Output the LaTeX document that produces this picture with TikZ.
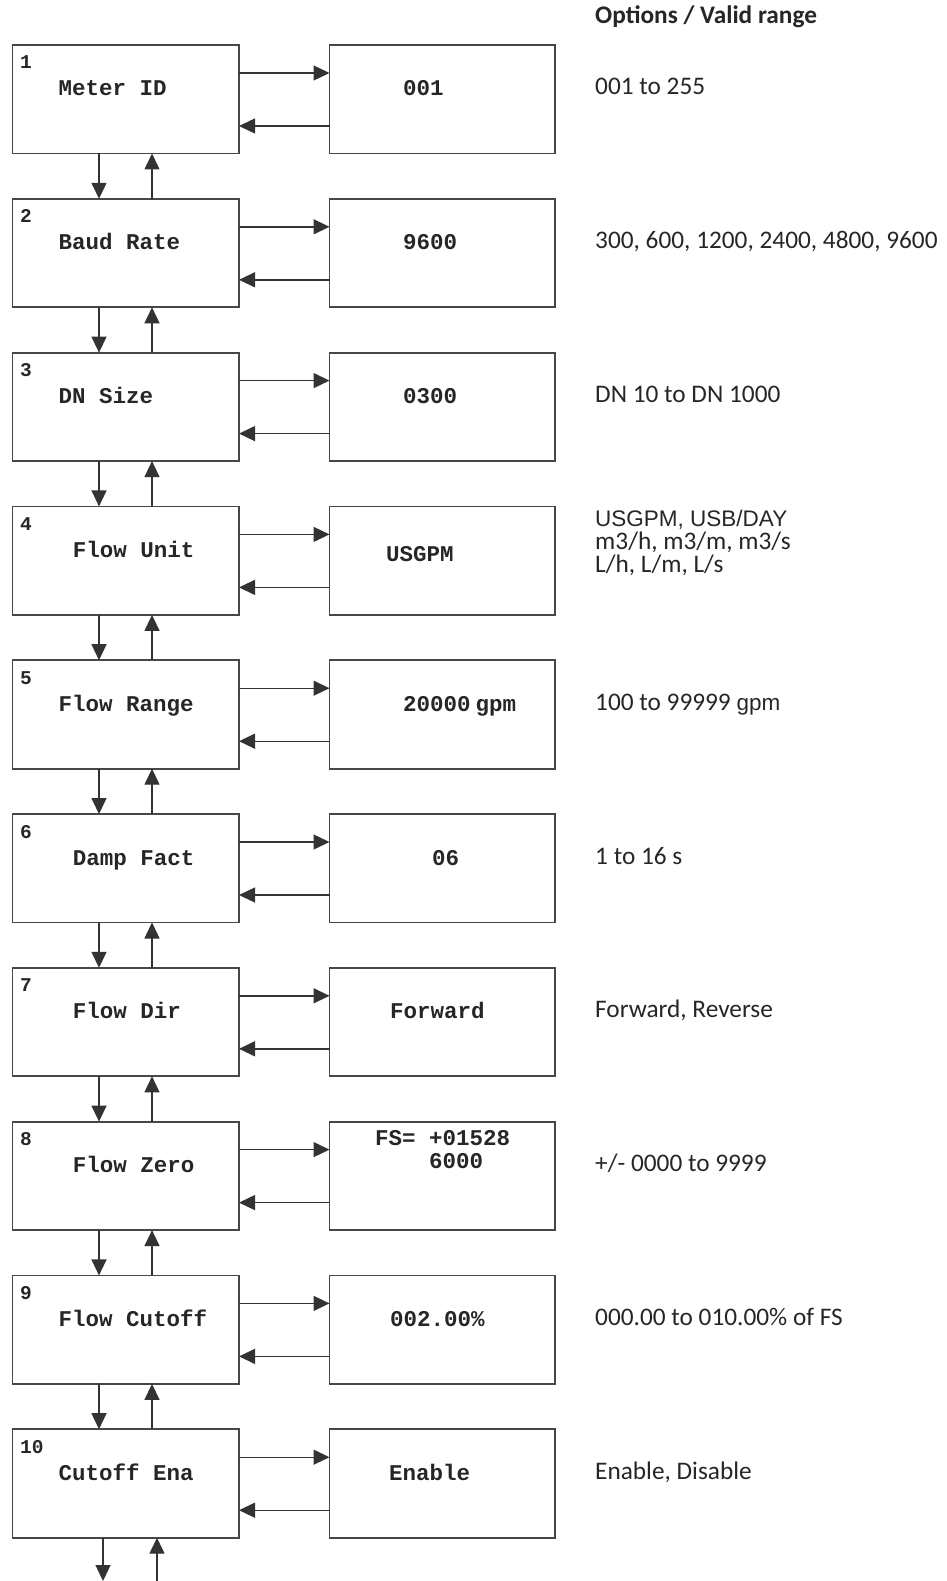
\documentclass[tikz,border=0pt]{standalone}
\usepackage{fontspec}
\setmainfont{Carlito}
\setmonofont{Liberation Mono}
\newfontfamily\arialfont{Liberation Sans}
\newcommand{\arialsmall}{\arialfont\fontsize{22.5pt}{23pt}\selectfont}
\usetikzlibrary{arrows.meta, positioning, calc}

\begin{document}
\begin{tikzpicture}[x=1pt, y=-1pt,
    menubox/.style={rectangle, draw=black!72, line width=1.8pt, minimum width=226.5pt, minimum height=108.5pt, outer sep=0pt, inner sep=0pt},
    valbox/.style={menubox, minimum width=225.5pt},
    numtext/.style={anchor=base west, inner sep=0pt, align=left, text=black!85, font=\fontsize{19.5pt}{23pt}\selectfont\ttfamily\bfseries},
    menutext/.style={numtext, font=\fontsize{22.5pt}{23pt}\selectfont\ttfamily\bfseries},
    opttext/.style={anchor=base west, inner sep=0pt, align=left, text=black!85, font=\fontsize{25.3pt}{23pt}\selectfont},
    arrow/.style={draw=black!80, line width=1.4pt, -{Triangle[length=16pt, width=15pt]}}
]
\useasboundingbox (0,0) rectangle (946,1581);

% Header
\node[opttext, font=\fontsize{25.3pt}{23pt}\selectfont\bfseries] (head) at (595,24) {Options / Valid range};

% Rows: menu box, value box, options (multi-line text sits on its last baseline)
\foreach \i/\lab/\lx/\val/\vx/\vy/\opt/\oy in {
    1/{Meter ID}/58.5/{001}/403/51/{001 to 255}/50,
    2/{Baud Rate}/58.5/{9600}/403/51/{300, 600, 1200, 2400, 4800, 9600}/50,
    3/{DN Size}/58.5/{0300}/403/51/{DN 10 to DN 1000}/50,
    4/{Flow Unit}/72.6/{USGPM}/386/55/{{\arialsmall USGPM, USB/DAY}\\m3/h, m3/m, m3/s\\L/h, L/m, L/s}/66,
    5/{Flow Range}/58.5/{20000\hspace{5pt}gpm}/403/51/{100 to 99999 {\arialsmall gpm}}/50,
    6/{Damp Fact}/72.6/{06}/432/51/{1 to 16 s}/50,
    7/{Flow Dir}/72.6/{Forward}/390/51/{Forward, Reverse}/50,
    8/{Flow Zero}/72.6/{FS= +01528\\\phantom{FS=+}6000}/375/47/{+/- 0000 to 9999}/50,
    9/{Flow Cutoff}/58.5/{002.00\%}/390/51/{000.00 to 010.00\% of FS}/50,
    10/{Cutoff Ena}/58.5/{Enable}/389/51/{Enable, Disable}/50}{
  \pgfmathsetmacro\rowtop{45+153.8*(\i-1)}
  \node[menubox] (m\i) at (125.75,\rowtop+54.25) {};
  \node[valbox, right=90.5pt of m\i] (v\i) {};
  \node[numtext] (n\i) at (20,\rowtop+24) {\i};
  \node[menutext] (l\i) at (\lx,\rowtop+51) {\lab};
  \node[menutext] (x\i) at (\vx,\rowtop+\vy) {\val};
  \node[opttext] (o\i) at (595,\rowtop+\oy) {\opt};
  \draw[arrow] ($(m\i.north east)+(0,28)$) -- ($(v\i.north west)+(0,28)$);
  \draw[arrow] ($(v\i.north west)+(0,81)$) -- ($(m\i.north east)+(0,81)$);
}

% Up/down between menu boxes
\foreach \i [evaluate=\i as \j using int(\i+1)] in {1,...,9}{
  \draw[arrow] ($(m\i.south west)+(86.5,0)$) -- ($(m\j.north west)+(86.5,0)$);
  \draw[arrow] ($(m\j.north west)+(139.5,0)$) -- ($(m\i.south west)+(139.5,0)$);
}

% Free ends below the last box
\coordinate (downend) at (103,1581);
\coordinate (upstart) at (157,1581);
\draw[arrow] (m10.south west -| downend) -- (downend);
\draw[arrow] (upstart) -- (m10.south west -| upstart);

\end{tikzpicture}
\end{document}
